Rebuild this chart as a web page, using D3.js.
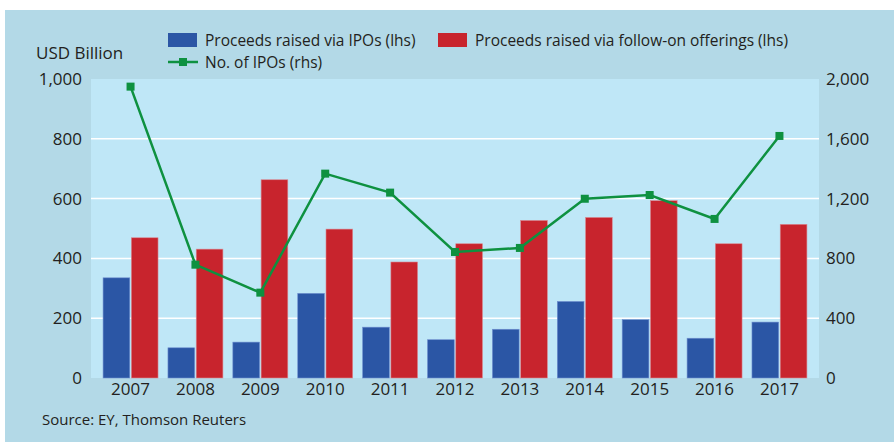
<!doctype html>
<html>
  <head>
    <script src="https://cdnjs.cloudflare.com/ajax/libs/d3/7.8.5/d3.min.js"></script>
    <style>
      body { margin: 0; background: #fff; }
      text { font-family: "Open Sans", "Noto Sans", sans-serif; fill: #231f20; }
    </style>
  </head>
  <body>
    <svg width="894" height="442"></svg>
    <script>
      var years = ["2007","2008","2009","2010","2011","2012","2013","2014","2015","2016","2017"];
      var ipoProceeds = [335, 101, 120, 283, 170, 128, 163, 256, 195, 133, 187];
      var followOnProceeds = [469, 431, 663, 498, 388, 449, 527, 537, 593, 449, 514];
      var ipoCount = [1949, 758, 571, 1367, 1240, 843, 870, 1199, 1224, 1064, 1619];
      var leftTicks = [0, 200, 400, 600, 800, 1000];
      var rightTicks = [0, 400, 800, 1200, 1600, 2000];

      var svg = d3.select("svg");
      var plotL = 91, plotR = 819, plotT = 79, plotB = 378;

      svg.append("rect")
          .attr("x", 5).attr("y", 10)
          .attr("width", 889).attr("height", 432)
          .attr("fill", "#b3d9e7");

      svg.append("rect")
          .attr("x", plotL).attr("y", plotT)
          .attr("width", plotR - plotL).attr("height", plotB - plotT)
          .attr("fill", "#bfe7f7");

      var x = d3.scaleBand().domain(years).range([plotL, plotR])
          .paddingInner(0.153).paddingOuter(0.186);
      var sub = d3.scaleBand().domain(["ipo","fo"]).range([0, x.bandwidth()]).paddingInner(0.055);
      var yL = d3.scaleLinear().domain([0, 1000]).range([plotB, plotT]);
      var yR = d3.scaleLinear().domain([0, 2000]).range([plotB, plotT]);

      // gridlines
      svg.append("g").selectAll("line")
        .data(leftTicks.slice(1, -1))
        .enter().append("line")
          .attr("x1", plotL).attr("x2", plotR)
          .attr("y1", d => yL(d)).attr("y2", d => yL(d))
          .attr("stroke", "#fff").attr("stroke-width", 1.5);

      // bars
      var groups = svg.append("g").selectAll("g")
        .data(years).enter().append("g")
          .attr("transform", d => "translate(" + x(d) + ",0)");
      groups.append("rect")
          .attr("x", sub("ipo")).attr("width", sub.bandwidth())
          .attr("y", (d,i) => yL(ipoProceeds[i]))
          .attr("height", (d,i) => plotB - yL(ipoProceeds[i]))
          .attr("fill", "#2b56a5").attr("stroke", "#6f8fcf").attr("stroke-width", 0.6);
      groups.append("rect")
          .attr("x", sub("fo")).attr("width", sub.bandwidth())
          .attr("y", (d,i) => yL(followOnProceeds[i]))
          .attr("height", (d,i) => plotB - yL(followOnProceeds[i]))
          .attr("fill", "#c8242d").attr("stroke", "#d98a92").attr("stroke-width", 0.6);

      // line
      var cx = (d, i) => x(years[i]) + x.bandwidth() / 2;
      var line = d3.line().x(cx).y(d => yR(d));
      svg.append("path")
          .attr("d", line(ipoCount))
          .attr("fill", "none").attr("stroke", "#0e9140").attr("stroke-width", 2.5);
      svg.append("g").selectAll("rect")
        .data(ipoCount).enter().append("rect")
          .attr("x", (d,i) => cx(d,i) - 4).attr("y", d => yR(d) - 4)
          .attr("width", 8).attr("height", 8)
          .attr("fill", "#0e9140");

      // axes
      var fmt = d3.format(",");
      var axL = svg.append("g")
          .attr("transform", "translate(" + plotL + ",0)")
          .call(d3.axisLeft(yL).tickValues(leftTicks).tickFormat(fmt).tickSize(0).tickPadding(9));
      var axR = svg.append("g")
          .attr("transform", "translate(" + plotR + ",0)")
          .call(d3.axisRight(yR).tickValues(rightTicks).tickFormat(fmt).tickSize(0).tickPadding(7));
      var axB = svg.append("g")
          .attr("transform", "translate(0," + plotB + ")")
          .call(d3.axisBottom(x).tickSize(0).tickPadding(5));
      [axL, axR, axB].forEach(function(a) {
        a.select(".domain").remove();
        a.selectAll("text").style("font-size", "17px").attr("fill", "#231f20");
      });

      // titles
      svg.append("text").attr("x", 36).attr("y", 59)
          .style("font-size", "17px").text("USD Billion");
      svg.append("text").attr("x", 42).attr("y", 425)
          .style("font-size", "15px").text("Source: EY, Thomson Reuters");

      // legend
      var lg = svg.append("g");
      lg.append("rect").attr("x", 168).attr("y", 33).attr("width", 29).attr("height", 14).attr("fill", "#2b56a5");
      lg.append("text").attr("x", 205).attr("y", 46).style("font-size", "15.5px").text("Proceeds raised via IPOs (lhs)");
      lg.append("rect").attr("x", 438).attr("y", 33).attr("width", 29).attr("height", 14).attr("fill", "#c8242d");
      lg.append("text").attr("x", 475).attr("y", 46).style("font-size", "15.5px").text("Proceeds raised via follow-on offerings (lhs)");
      lg.append("line").attr("x1", 168).attr("x2", 198).attr("y1", 62).attr("y2", 62)
          .attr("stroke", "#0e9140").attr("stroke-width", 2.5);
      lg.append("rect").attr("x", 179).attr("y", 58).attr("width", 8).attr("height", 8).attr("fill", "#0e9140");
      lg.append("text").attr("x", 205).attr("y", 68).style("font-size", "15.5px").text("No. of IPOs (rhs)");
    </script>
  </body>
</html>
